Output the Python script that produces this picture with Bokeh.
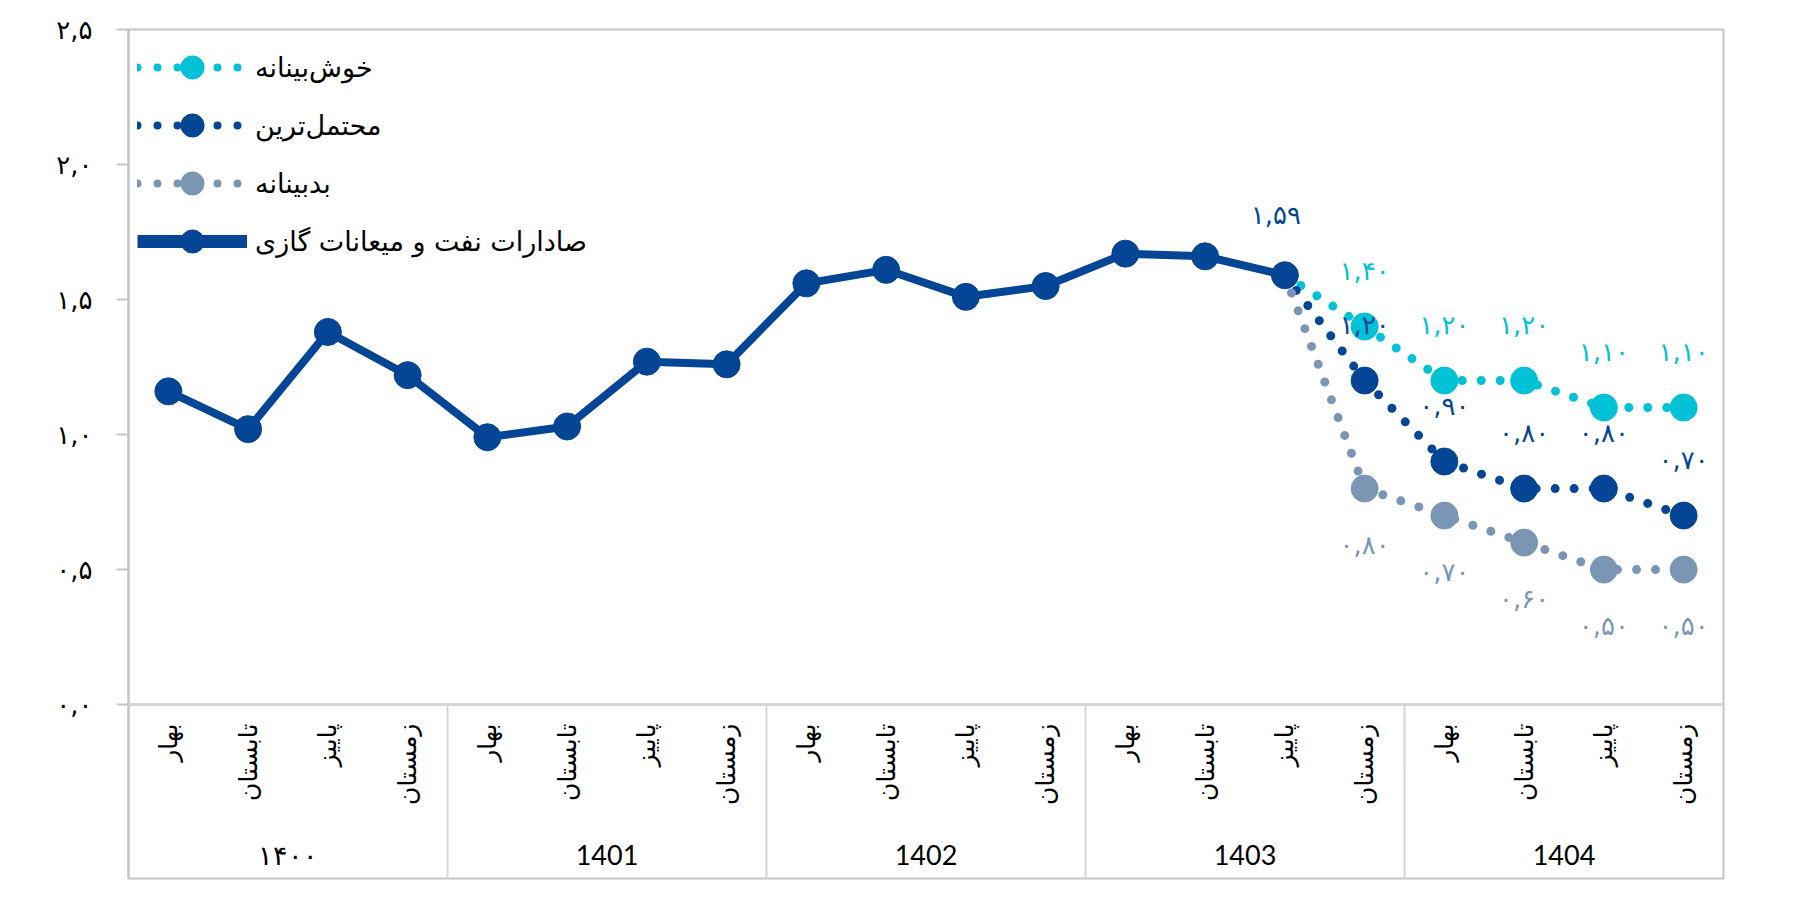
import math
from bokeh.plotting import figure
from bokeh.models import (FactorRange, Range1d, ColumnDataSource, Span, Legend,
                          LegendItem, FixedTicker, CustomJSTickFormatter)
from bokeh.core.properties import value
from bokeh.embed import file_html
from bokeh.resources import INLINE

# ---------------- data ----------------
years = ["۱۴۰۰", "1401", "1402", "1403", "1404"]
seasons = ["بهار", "تابستان", "پاییز", "زمستان"]
actual = [1.16, 1.02, 1.38, 1.22, 0.99, 1.03, 1.27, 1.26,
          1.56, 1.61, 1.51, 1.55, 1.67, 1.66, 1.59]
optimistic = [1.40, 1.20, 1.20, 1.10, 1.10]
most_likely = [1.20, 0.90, 0.80, 0.80, 0.70]
pessimistic = [0.80, 0.70, 0.60, 0.50, 0.50]
series_names = ["خوش\u200cبینانه", "محتمل\u200cترین", "بدبینانه",
                "صادارات نفت و میعانات گازی"]
y_ticks = [0.0, 0.5, 1.0, 1.5, 2.0, 2.5]

# ---------------- styles ----------------
NAVY = "#044595"
CYAN = "#00C1D5"
GREY_BLUE = "#7B96B5"
AXIS_GREY = "#C4C4C4"
TABLE_GREY = "#D6D6D6"
FA_FONT = "DejaVu Sans"

FA = str.maketrans("0123456789.", "۰۱۲۳۴۵۶۷۸۹,")


def fa(v, d):
    return f"{v:.{d}f}".translate(FA)


factors = [(y, s) for y in years for s in seasons]
actual_x = factors[:len(actual)]
fc_x = factors[len(actual) - 1:len(actual) + len(optimistic)]

Y_BOTTOM = -0.644

p = figure(x_range=FactorRange(*factors, factor_padding=0, group_padding=0,
                               subgroup_padding=0, range_padding=0),
           y_range=Range1d(Y_BOTTOM, 2.5),
           width=1767, height=888, output_backend="svg", toolbar_location=None,
           min_border_left=128, min_border_right=44, min_border_top=29,
           min_border_bottom=10)

p.xaxis.visible = False
p.xgrid.visible = False
p.ygrid.visible = False
p.outline_line_color = AXIS_GREY
p.outline_line_width = 2
p.background_fill_color = "white"
p.border_fill_color = "white"

ya = p.yaxis[0]
ya.ticker = FixedTicker(ticks=y_ticks)
ya.formatter = CustomJSTickFormatter(code="""
const d = "۰۱۲۳۴۵۶۷۸۹";
return tick.toFixed(1).replace(/[0-9]/g, c => d[+c]).replace(".", ",");
""")
ya.minor_tick_line_color = None
ya.major_tick_out = 12
ya.major_tick_in = 0
ya.major_tick_line_color = AXIS_GREY
ya.major_tick_line_width = 2
ya.axis_line_color = AXIS_GREY
ya.axis_line_width = 2
ya.major_label_text_font = FA_FONT
ya.major_label_text_font_size = "26px"
ya.major_label_text_color = "black"
ya.major_label_standoff = 24

# zero line (top of the category table)
p.add_layout(Span(location=0, dimension="width", line_color=TABLE_GREY, line_width=3))

# group separators in the category table
n_s = len(seasons)
bounds = [n_s * (i + 1) for i in range(len(years) - 1)]
p.segment(x0=bounds, x1=bounds, y0=[0] * len(bounds), y1=[Y_BOTTOM] * len(bounds),
          line_color=TABLE_GREY, line_width=2)

# category labels
p.text(x=factors, y=[0] * len(factors), text=[s for _, s in factors],
       angle=math.pi / 2, text_align="right", text_baseline="middle",
       y_offset=19, text_font=value(FA_FONT), text_font_size="25px",
       text_color="black")
p.text(x=years, y=[0] * len(years), text=years, text_align="center",
       text_baseline="middle", y_offset=150, text_font=value("Lato"),
       text_font_size="27px", text_color="black")

# forecast lines
scen = [(optimistic, CYAN, -56), (most_likely, NAVY, -56), (pessimistic, GREY_BLUE, 56)]
for vals, col, _ in scen:
    p.line(x=fc_x, y=[actual[-1]] + vals, line_color=col, line_width=9,
           line_dash="0 19", line_cap="round")
for vals, col, _ in scen:
    p.scatter(x=fc_x[1:], y=vals, size=27, fill_color=col, line_color=col)

# actual series
p.line(x=actual_x, y=actual, line_color=NAVY, line_width=8, line_join="round")
p.scatter(x=actual_x, y=actual, size=27, fill_color=NAVY, line_color=NAVY)

# data labels
p.text(x=[actual_x[-1]], y=[actual[-1]], text=[fa(actual[-1], 2)], y_offset=-60,
       x_offset=-9, text_align="center", text_baseline="middle",
       text_font=value(FA_FONT), text_font_size="26px", text_color=NAVY)
for vals, col, off in scen:
    p.text(x=fc_x[1:], y=vals, text=[fa(v, 2) for v in vals], y_offset=off,
           text_align="center", text_baseline="middle", text_font=value(FA_FONT),
           text_font_size="26px", text_color=col)

# legend (renderers with a single NaN point, so only the legend shows them)
nan = float("nan")
items = []
leg_styles = [(CYAN, True), (NAVY, True), (GREY_BLUE, True), (NAVY, False)]
for name, (col, dotted) in zip(series_names, leg_styles):
    src = ColumnDataSource(dict(x=[factors[0]], y=[nan]))
    if dotted:
        lr = p.line(x="x", y="y", source=src, line_color=col, line_width=8,
                    line_dash="0 20", line_cap="round")
    else:
        lr = p.line(x="x", y="y", source=src, line_color=col, line_width=13,
                    line_cap="butt")
    sr = p.scatter(x="x", y="y", source=src, size=26, fill_color=col, line_color=col)
    items.append(LegendItem(label=name, renderers=[lr, sr]))

legend = Legend(items=items, location="top_left", margin=9, padding=0,
                spacing=0, glyph_width=110, glyph_height=58, label_height=58,
                label_standoff=8, label_text_font=FA_FONT,
                label_text_font_size="27px", label_text_color="black",
                border_line_color=None, background_fill_alpha=0)
p.add_layout(legend, "center")

open("out.html", "w").write(file_html(p, INLINE))
